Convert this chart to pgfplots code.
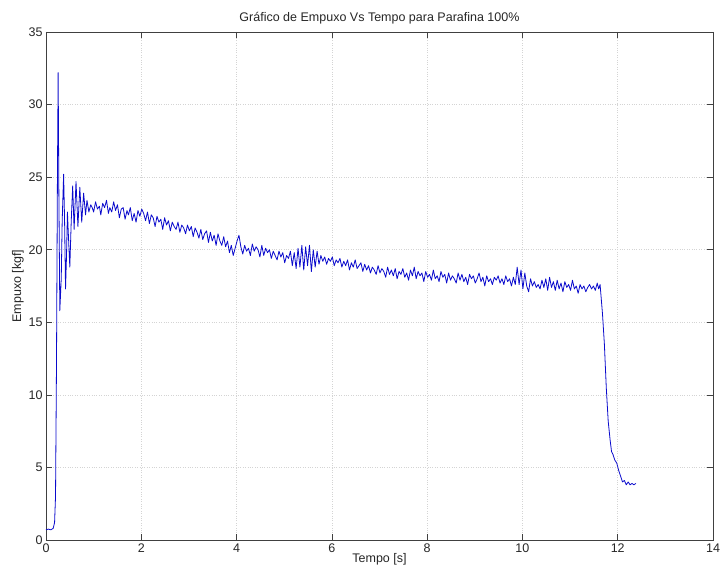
\documentclass[border=0pt]{standalone}
\usepackage{fontspec}
\setmainfont{Liberation Sans}
\usepackage{pgfplots}
\pgfplotsset{compat=1.18}
\definecolor{MLBlue}{HTML}{0A0ACC}
\definecolor{MLGrid}{HTML}{D4D4D4}
\definecolor{MLAxis}{HTML}{404040}

\pgfplotstableread{
t y
0.00 0.70
0.05 0.75
0.10 0.70
0.15 0.80
0.18 1.2
0.20 3.0
0.22 12.0
0.24 25.0
0.255 32.2
0.27 24.0
0.29 15.8
0.32 18.0
0.34 22.0
0.37 25.2
0.39 22.0
0.41 17.3
0.43 19.5
0.45 22.6
0.47 21.0
0.50 18.8
0.53 22.0
0.56 24.4
0.59 21.4
0.63 24.7
0.67 21.6
0.71 24.3
0.75 21.9
0.79 23.9
0.83 22.4
0.86 23.4
0.90 22.6
0.94 23.1
0.97 22.9
1.00 22.6
1.04 23.3
1.08 22.8
1.12 23.0
1.15 22.4
1.19 23.2
1.23 22.9
1.27 23.4
1.31 22.5
1.34 22.9
1.38 22.6
1.42 23.3
1.46 22.7
1.50 23.1
1.54 22.2
1.58 22.8
1.62 22.9
1.66 22.1
1.70 22.7
1.73 22.4
1.77 22.9
1.81 22.0
1.85 22.5
1.89 21.9
1.93 22.7
1.97 22.3
2.01 22.8
2.05 22.5
2.09 22.0
2.13 22.6
2.17 21.8
2.21 22.4
2.25 22.2
2.29 21.6
2.33 22.3
2.37 21.9
2.41 22.1
2.45 21.4
2.49 22.2
2.53 21.7
2.57 22.0
2.61 21.3
2.65 21.9
2.69 21.6
2.73 21.4
2.77 21.9
2.81 21.2
2.85 21.7
2.89 21.5
2.93 21.1
2.97 21.7
3.01 21.3
3.05 21.6
3.09 20.9
3.13 21.5
3.17 21.2
3.21 20.8
3.25 21.4
3.29 20.7
3.33 21.1
3.37 21.3
3.41 20.5
3.45 21.2
3.49 20.6
3.53 21.0
3.57 20.3
3.61 21.1
3.65 20.6
3.69 20.3
3.73 20.9
3.77 20.2
3.81 20.6
3.85 19.8
3.89 20.3
3.93 19.6
3.97 20.1
4.01 20.6
4.05 21.0
4.09 20.2
4.13 19.7
4.17 20.3
4.21 19.9
4.25 20.1
4.29 19.6
4.33 20.4
4.37 19.9
4.41 20.2
4.45 20.0
4.49 19.5
4.53 20.3
4.57 19.6
4.61 20.1
4.65 19.8
4.69 20.0
4.73 19.4
4.77 19.9
4.81 19.6
4.85 19.3
4.89 19.9
4.93 19.5
4.97 19.8
5.01 19.1
5.05 19.6
5.09 19.4
5.13 19.9
5.17 18.9
5.21 19.8
5.25 18.7
5.29 20.1
5.33 18.8
5.37 20.3
5.41 18.6
5.45 20.2
5.49 18.9
5.53 20.3
5.57 18.5
5.61 20.0
5.65 18.8
5.69 19.9
5.73 19.0
5.77 19.6
5.81 19.2
5.85 19.5
5.89 19.0
5.93 19.4
5.97 19.2
6.01 19.5
6.05 18.9
6.09 19.3
6.13 19.1
6.17 19.4
6.21 18.8
6.25 19.2
6.29 18.9
6.33 19.3
6.37 18.6
6.41 19.1
6.45 18.8
6.49 19.3
6.53 18.7
6.57 18.9
6.61 19.1
6.65 18.5
6.69 19.0
6.73 18.6
6.77 18.9
6.81 18.4
6.85 18.8
6.89 18.6
6.93 18.3
6.97 18.9
7.01 18.4
7.05 18.7
7.09 18.5
7.13 18.1
7.17 18.8
7.21 18.3
7.25 18.6
7.29 18.2
7.33 18.7
7.37 18.0
7.41 18.5
7.45 18.3
7.49 18.7
7.53 18.1
7.57 18.4
7.61 17.9
7.65 18.6
7.69 18.2
7.73 18.8
7.77 18.0
7.81 18.5
7.85 18.2
7.89 18.4
7.93 17.8
7.97 18.5
8.01 18.1
8.05 18.3
8.09 17.9
8.13 18.6
8.17 18.0
8.21 18.2
8.25 17.8
8.29 18.5
8.33 18.1
8.37 18.3
8.41 17.7
8.45 18.4
8.49 17.9
8.53 18.2
8.57 18.0
8.61 17.7
8.65 18.4
8.69 17.9
8.73 18.3
8.77 17.8
8.81 18.1
8.85 17.6
8.89 18.3
8.93 18.0
8.97 18.2
9.01 17.7
9.05 18.0
9.09 18.4
9.13 17.8
9.17 18.1
9.21 17.5
9.25 18.2
9.29 17.8
9.33 18.0
9.37 17.6
9.41 18.1
9.45 17.9
9.49 18.2
9.53 17.7
9.57 18.0
9.61 17.6
9.65 18.2
9.69 17.8
9.73 18.0
9.77 17.5
9.81 18.1
9.85 17.6
9.89 18.8
9.93 17.6
9.97 18.6
10.01 17.3
10.05 18.4
10.09 17.5
10.13 17.1
10.17 18.0
10.21 17.5
10.25 17.8
10.29 17.4
10.33 17.6
10.37 17.3
10.41 17.9
10.45 17.4
10.49 18.0
10.53 17.2
10.57 18.1
10.61 17.4
10.65 17.8
10.69 17.2
10.73 17.9
10.77 17.3
10.81 17.7
10.85 17.1
10.89 17.8
10.93 17.4
10.97 17.6
11.01 17.2
11.05 17.9
11.09 17.3
11.13 17.5
11.17 17.0
11.21 17.6
11.25 17.3
11.29 17.5
11.33 17.1
11.37 17.4
11.41 17.6
11.45 17.3
11.49 17.5
11.53 17.2
11.57 17.7
11.60 17.3
11.63 17.6
11.65 16.8
11.68 15.6
11.72 13.5
11.76 10.5
11.80 8.2
11.84 6.9
11.87 6.1
11.90 5.9
11.94 5.5
11.98 5.3
12.02 4.8
12.06 4.4
12.10 4.0
12.14 4.1
12.18 3.8
12.22 4.0
12.26 3.8
12.30 3.9
12.34 3.8
12.38 3.9
}\empuxo

\begin{document}
\begin{tikzpicture}
\begin{axis}[
  scale only axis,
  width=667pt,height=508pt,
  xmin=0,xmax=14,ymin=0,ymax=35,
  xtick={0,2,...,14},
  ytick={0,5,...,35},
  axis line style={MLAxis,line width=0.5pt},
  tick style={MLAxis,line width=0.5pt},
  tick align=inside,
  major tick length=6pt,
  grid=major,
  major grid style={MLGrid,dotted,line width=0.5pt},
  tick label style={font=\fontsize{12.5}{14}\selectfont,text=black!85},
  /pgf/number format/assume math mode=true,
  xticklabel style={yshift=0pt},
  yticklabel style={xshift=0pt},
  title={Gráfico de Empuxo Vs Tempo para Parafina 100\%},
  title style={font=\fontsize{12.5}{14}\selectfont,yshift=-2pt,text=black!85},
  xlabel={Tempo [s]},
  ylabel={Empuxo [kgf]},
  label style={font=\fontsize{12.5}{14}\selectfont,text=black!85},
  xlabel style={yshift=6pt},
  ylabel style={yshift=-2pt},
]
\addplot[MLBlue,line width=0.8pt,line join=round] table[x=t,y=y] {\empuxo};
\end{axis}
\path[use as bounding box] (-46pt,-36pt) rectangle (678pt,540pt);
\end{tikzpicture}
\end{document}
